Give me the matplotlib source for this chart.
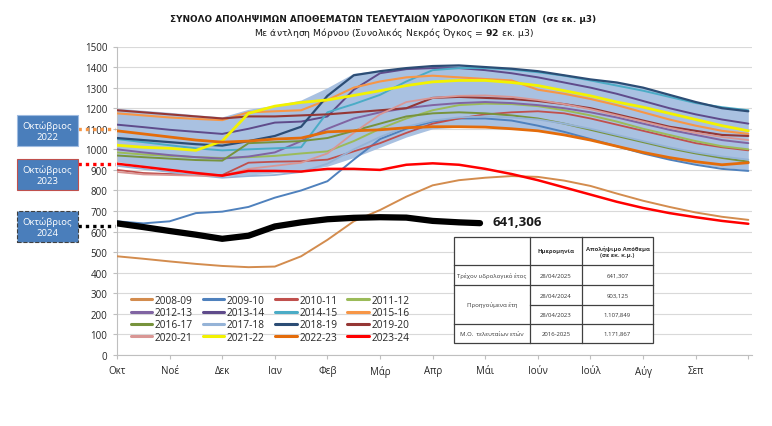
import numpy as np
import matplotlib
matplotlib.use("Agg")
import matplotlib.pyplot as plt
import matplotlib.transforms as mtransforms
from matplotlib.patches import Rectangle
from matplotlib.lines import Line2D

plt.rcParams['font.family'] = ['Open Sans', 'DejaVu Sans']

# ---------------- data ----------------
months = np.arange(0, 12.01, 0.5)   # half-month grid, 0 = 1 October
month_labels = ['Οκτ', 'Νοέ', 'Δεκ', 'Ιαν', 'Φεβ', 'Μάρ', 'Απρ', 'Μάι', 'Ιούν', 'Ιούλ', 'Αύγ', 'Σεπ']

band_high = [1200, 1190, 1180, 1168, 1158, 1195, 1215, 1240, 1300, 1370, 1385, 1398, 1405,
             1408, 1402, 1393, 1380, 1362, 1342, 1325, 1300, 1265, 1232, 1205, 1190]
band_low = [940, 920, 902, 885, 870, 875, 885, 895, 918, 960, 1010, 1060, 1100,
            1108, 1108, 1102, 1090, 1070, 1045, 1015, 985, 955, 930, 912, 900]

y2008_09 = [480, 468, 455, 443, 433, 427, 430, 480, 560, 650, 705, 770, 825,
            850, 862, 870, 866, 848, 822, 785, 750, 720, 693, 672, 657]
y2009_10 = [650, 640, 650, 690, 697, 720, 765, 800, 845, 950, 1050, 1100, 1135,
            1150, 1150, 1140, 1115, 1085, 1050, 1015, 980, 950, 925, 905, 895]
y2010_11 = [900, 885, 880, 878, 875, 935, 940, 942, 950, 990, 1030, 1080, 1125,
            1150, 1170, 1180, 1185, 1175, 1150, 1120, 1090, 1060, 1030, 1010, 995]
y2011_12 = [985, 975, 968, 962, 958, 962, 968, 980, 990, 1040, 1100, 1150, 1190,
            1215, 1222, 1220, 1210, 1190, 1165, 1135, 1100, 1070, 1040, 1015, 1000]
y2012_13 = [1000, 985, 972, 962, 955, 965, 985, 1040, 1100, 1150, 1180, 1200, 1215,
            1225, 1230, 1225, 1215, 1200, 1180, 1155, 1125, 1095, 1070, 1045, 1030]
y2013_14 = [1120, 1108, 1095, 1085, 1075, 1100, 1130, 1135, 1160, 1290, 1370, 1390, 1395,
            1395, 1385, 1370, 1350, 1325, 1300, 1270, 1235, 1200, 1170, 1145, 1125]
y2014_15 = [1050, 1035, 1020, 1005, 995, 1000, 1005, 1010, 1180, 1220, 1265, 1330, 1385,
            1395, 1395, 1388, 1375, 1358, 1335, 1310, 1285, 1255, 1225, 1205, 1190]
y2015_16 = [1175, 1165, 1155, 1148, 1142, 1180, 1185, 1190, 1240, 1300, 1330, 1350, 1358,
            1350, 1342, 1335, 1290, 1270, 1245, 1215, 1180, 1145, 1115, 1090, 1075]
y2016_17 = [970, 962, 955, 948, 945, 1030, 1035, 1040, 1055, 1090, 1125, 1160, 1175,
            1180, 1175, 1165, 1150, 1125, 1095, 1065, 1035, 1005, 980, 958, 940]
y2017_18 = [920, 905, 890, 875, 862, 870, 875, 890, 930, 1000, 1060, 1110, 1140,
            1155, 1160, 1155, 1145, 1125, 1100, 1070, 1040, 1010, 985, 965, 950]
y2018_19 = [1055, 1045, 1035, 1025, 1018, 1040, 1065, 1110, 1260, 1360, 1380, 1395, 1405,
            1408, 1400, 1392, 1380, 1360, 1340, 1325, 1300, 1265, 1230, 1200, 1185]
y2019_20 = [1190, 1180, 1170, 1160, 1150, 1160, 1160, 1165, 1170, 1180, 1190, 1200, 1250,
            1255, 1250, 1245, 1235, 1220, 1200, 1170, 1140, 1110, 1090, 1070, 1065]
y2020_21 = [890, 878, 875, 872, 870, 905, 920, 935, 980, 1080, 1170, 1230, 1250,
            1260, 1262, 1255, 1240, 1220, 1195, 1165, 1135, 1105, 1080, 1060, 1045]
y2021_22 = [1020, 1010, 1005, 995, 1040, 1175, 1210, 1228, 1240, 1262, 1285, 1310, 1328,
            1335, 1335, 1325, 1310, 1285, 1260, 1230, 1205, 1175, 1145, 1115, 1090]
y2022_23 = [1090, 1075, 1060, 1045, 1035, 1040, 1050, 1055, 1085, 1090, 1095, 1105, 1110,
            1110, 1108, 1100, 1090, 1070, 1045, 1015, 985, 960, 940, 925, 935]
y2023_24 = [930, 915, 900, 885, 872, 895, 895, 892, 905, 905, 900, 925, 932,
            925, 905, 880, 850, 815, 780, 745, 715, 690, 670, 652, 638]

current_months = [0, 0.5, 1, 1.5, 2, 2.5, 3, 3.5, 4, 4.5, 5, 5.5, 6, 6.5, 6.9]
y2024_25 = [640, 622, 603, 585, 565, 580, 625, 645, 660, 667, 670, 668, 652, 645, 641]
current_label = '641,306'

series_names = ['2008-09', '2009-10', '2010-11', '2011-12', '2012-13', '2013-14', '2014-15',
                '2015-16', '2016-17', '2017-18', '2018-19', '2019-20', '2020-21', '2021-22',
                '2022-23', '2023-24']
series_values = [y2008_09, y2009_10, y2010_11, y2011_12, y2012_13, y2013_14, y2014_15,
                 y2015_16, y2016_17, y2017_18, y2018_19, y2019_20, y2020_21, y2021_22,
                 y2022_23, y2023_24]

box_labels = ['Οκτώβριος\n2022', 'Οκτώβριος\n2023', 'Οκτώβριος\n2024']
box_levels = [1100, 930, 625]

table_header = ['', 'Ημερομηνία', 'Απολήψιμο Απόθεμα\n(σε εκ. κ.μ.)']
table_rows = [['Τρέχον υδρολογικό έτος', '28/04/2025', '641,307'],
              ['Προηγούμενα έτη', '28/04/2024', '903,125'],
              ['', '28/04/2023', '1.107,849'],
              ['Μ.Ο.  τελευταίων ετών', '2016-2025', '1.171,867']]

title = 'ΣΥΝΟΛΟ ΑΠΟΛΗΨΙΜΩΝ ΑΠΟΘΕΜΑΤΩΝ ΤΕΛΕΥΤΑΙΩΝ ΥΔΡΟΛΟΓΙΚΩΝ ΕΤΩΝ  (σε εκ. μ3)'
subtitle = 'Με άντληση Μόρνου (Συνολικός Νεκρός Όγκος = $\\bf{92}$ εκ. μ3)'

# ---------------- styles ----------------
colors = ['#d38c4e', '#4f81bd', '#c0504d', '#9bbb59', '#8064a2', '#5f4b8b', '#4bacc6',
          '#f79646', '#77933c', '#95b3d7', '#2c4d75', '#953735', '#d99694', '#f2f200',
          '#e46c0a', '#ff0000']
widths = [1.4, 1.4, 1.3, 1.4, 1.4, 1.4, 1.4, 1.5, 1.4, 1.3, 1.6, 1.5, 1.3, 2.0, 2.0, 1.8]

W, H = 772, 427
fig = plt.figure(figsize=(W / 100, H / 100), dpi=100)

def fx(x):
    return x / W

def fy(y):
    return 1 - y / H

ax = fig.add_axes([fx(117), fy(356), fx(752) - fx(117), fy(47.5) - fy(356)])
ax.set_xlim(0, 12.07)
ax.set_ylim(0, 1500)

ax.fill_between(months, band_low, band_high, color='#a9c1e1', lw=0, zorder=1)
handles = []
for name, vals, c, lw in zip(series_names, series_values, colors, widths):
    ln, = ax.plot(months, vals, color=c, lw=lw, label=name, zorder=3,
                  solid_joinstyle='round', solid_capstyle='round')
    handles.append(ln)
ax.plot(current_months, y2024_25, color='black', lw=4.5, zorder=5,
        solid_capstyle='round', solid_joinstyle='round')
ax.text(7.13, y2024_25[-1] + 10, current_label, fontsize=9.5, fontweight='bold',
        va='center', ha='left', color='#1a1a1a', zorder=6)

# axes styling
ax.set_yticks(np.arange(0, 1501, 100))
ax.yaxis.grid(True, color='#d9d9d9', lw=0.8)
ax.set_axisbelow(True)
ax.set_xticks(np.arange(0, 13, 1))
ax.set_xticklabels(month_labels + [''])
for s in ['top', 'right']:
    ax.spines[s].set_visible(False)
for s in ['left', 'bottom']:
    ax.spines[s].set_color('#bfbfbf')
    ax.spines[s].set_linewidth(0.8)
ax.tick_params(axis='both', colors='#bfbfbf', length=3, width=0.8, labelsize=7,
               labelcolor='#262626')
ax.tick_params(axis='x', pad=4)
ax.tick_params(axis='y', pad=4)

# legend (row-major order like the reference)
ncol = 4
order = [r * ncol + c for c in range(ncol) for r in range(len(handles) // ncol)]
leg = fig.legend([handles[i] for i in order], [series_names[i] for i in order],
                 loc='upper left', bbox_to_anchor=(fx(131), fy(296)), ncol=ncol,
                 frameon=False, fontsize=7.3, handlelength=2.1, handletextpad=0.25,
                 columnspacing=1.0, labelspacing=0.12, borderpad=0, borderaxespad=0)
for h in leg.legend_handles:
    h.set_linewidth(2.2)
for t in leg.get_texts():
    t.set_color('#262626')

# connectors and boxes on the left
blend = mtransforms.blended_transform_factory(ax.transAxes, ax.transData)
conn_colors = ['#f79646', '#ff0000', 'black']
box_tops = [116, 160, 212]
box_edges = ['#9fbbe0', '#c0504d', '#404040']
box_styles = ['solid', 'solid', 'dashed']
for lab, lev, cc, bt, be, bs in zip(box_labels, box_levels, conn_colors, box_tops, box_edges, box_styles):
    x0 = (78 - 117) / (752 - 117)
    ax.plot([x0, -0.003], [lev, lev], transform=blend, clip_on=False, color=cc,
            lw=2.4, ls=(0, (1, 1.2)), zorder=6)
    rect = Rectangle((fx(17), fy(bt + 31)), fx(61), 31 / H, transform=fig.transFigure,
                     facecolor='#4a7ebb', edgecolor=be, lw=0.8, ls=bs)
    fig.add_artist(rect)
    fig.text(fx(47.5), fy(bt + 15.5), lab, ha='center', va='center', color='white',
             fontsize=6.8, linespacing=1.25)

# table
tl, tr, tt, tb = 454, 653, 238, 344
cols = [454, 530, 582, 653]
rows = [238, 266, 286, 306, 325, 344]
fig.add_artist(Rectangle((fx(tl), fy(tb)), fx(tr) - fx(tl), (tb - tt) / H,
                         transform=fig.transFigure, facecolor='white',
                         edgecolor='#404040', lw=0.9, zorder=10))
lc = '#404040'
for cx in cols[1:-1]:
    fig.add_artist(Line2D([fx(cx), fx(cx)], [fy(tt), fy(tb)], transform=fig.transFigure,
                          color=lc, lw=0.9, zorder=11))
for ry in rows[1:-1]:
    x_start = cols[1] if ry == 306 else tl
    fig.add_artist(Line2D([fx(x_start), fx(tr)], [fy(ry), fy(ry)], transform=fig.transFigure,
                          color=lc, lw=0.9, zorder=11))
tfs = 4.3
for j, txt in enumerate(table_header):
    fig.text(fx((cols[j] + cols[j + 1]) / 2), fy((rows[0] + rows[1]) / 2), txt,
             ha='center', va='center', fontsize=tfs, fontweight='bold', color='#333333',
             zorder=12, linespacing=1.3)
for i, row in enumerate(table_rows):
    for j, txt in enumerate(row):
        yc = (rows[i + 1] + rows[i + 2]) / 2
        if i == 1 and j == 0:
            yc = (rows[2] + rows[4]) / 2
        fig.text(fx((cols[j] + cols[j + 1]) / 2), fy(yc), txt, ha='center', va='center',
                 fontsize=tfs, color='#333333', zorder=12)

# titles
fig.text(fx(383), fy(20), title, ha='center', va='center', fontsize=6.4,
         fontweight='bold', family='DejaVu Sans', color='#1a1a1a')
fig.text(fx(394), fy(33.5), subtitle, ha='center', va='center', fontsize=6.7,
         family='DejaVu Sans', color='#1a1a1a')

fig.savefig('out.png', dpi=100)
